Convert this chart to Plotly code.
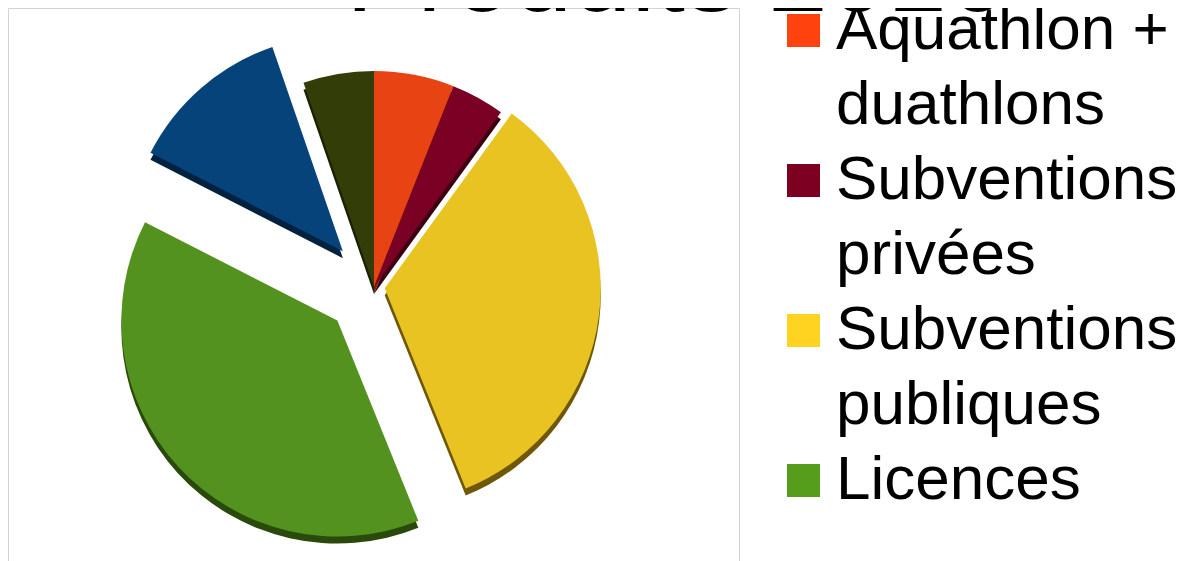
import textwrap
import plotly.graph_objects as go

# ---- data ----
title_text = "Produits 2016"
labels = ["Aquathlon + duathlons", "Subventions privées", "Subventions publiques",
          "Licences", "Buvette + repas", "Divers"]
values = [1450, 970, 8200, 9350, 2950, 1280]
pulls = [0, 0, 0.05, 0.23, 0.22, 0]

# ---- styles ----
slice_colors = ["#e84313", "#7a0024", "#e9c322", "#54921f", "#06437b", "#323d08"]
side_colors = ["#7a2309", "#3d0012", "#6e5808", "#2a4a0c", "#00213f", "#1a2004"]
legend_colors = ["#ff420e", "#7e0021", "#ffd320", "#579d1c", "#004586", "#314004"]

W, H = 1191, 561
OFF = 8  # page offset of the figure in the screenshot
FONT = "Liberation Sans, Arial, sans-serif"


def px_x(x):
    return (x - OFF) / W


def px_y(y):
    return 1 - (y - OFF) / H


r = 216
cx, cy = 374, 287
depth = 7
half = r * (1 + max(pulls))


def dom(cy_):
    return dict(x=[px_x(cx - half), px_x(cx + half)],
                y=[max(0.0, px_y(cy_ + half)), min(1.0, px_y(cy_ - half))])


fig = go.Figure()
# extruded side (3D depth)
fig.add_trace(go.Pie(labels=labels, values=values, pull=pulls, sort=False,
                     direction="clockwise", rotation=0, textinfo="none",
                     hoverinfo="skip", marker=dict(colors=side_colors, line=dict(width=0)),
                     domain=dom(cy + depth), showlegend=False))
# top face
fig.add_trace(go.Pie(labels=labels, values=values, pull=pulls, sort=False,
                     direction="clockwise", rotation=0, textinfo="none",
                     marker=dict(colors=slice_colors, line=dict(width=0)),
                     domain=dom(cy), showlegend=False))

# plot-area frame
fig.add_shape(type="rect", xref="paper", yref="paper", layer="below",
              x0=px_x(8.5), x1=px_x(739.5), y0=-0.05, y1=px_y(8.5),
              line=dict(color="#d4d4d4", width=1), fillcolor="rgba(0,0,0,0)")

# legend (entries that do not fit are dropped, as in the source)
line_h = 75
base0 = 49
n_lines = 0
for lab, col in zip(labels, legend_colors):
    lines = textwrap.wrap(lab, 11)
    first = base0 + line_h * n_lines
    last = first + line_h * (len(lines) - 1)
    n_lines += len(lines)
    if last + 10 > H:
        break
    fig.add_shape(type="rect", xref="paper", yref="paper",
                  x0=px_x(787), x1=px_x(820), y0=px_y(first - 2), y1=px_y(first - 35),
                  fillcolor=col, line=dict(width=0))
    for j, line in enumerate(lines):
        b = first + line_h * j
        fig.add_annotation(x=px_x(834), y=px_y(b - 21.5), xref="paper", yref="paper",
                           xanchor="left", yanchor="middle", text=line, showarrow=False,
                           font=dict(size=62, family=FONT, color="black"))

# title
fig.add_annotation(x=px_x(676), y=px_y(11 - 0.3465 * 107), xref="paper", yref="paper",
                   xanchor="center", yanchor="middle", text=title_text, showarrow=False,
                   font=dict(size=107, family=FONT, color="black"))

fig.update_layout(width=W, height=H, margin=dict(l=0, r=0, t=0, b=0),
                  paper_bgcolor="white", plot_bgcolor="white", showlegend=False)
fig.write_html("out.html")
